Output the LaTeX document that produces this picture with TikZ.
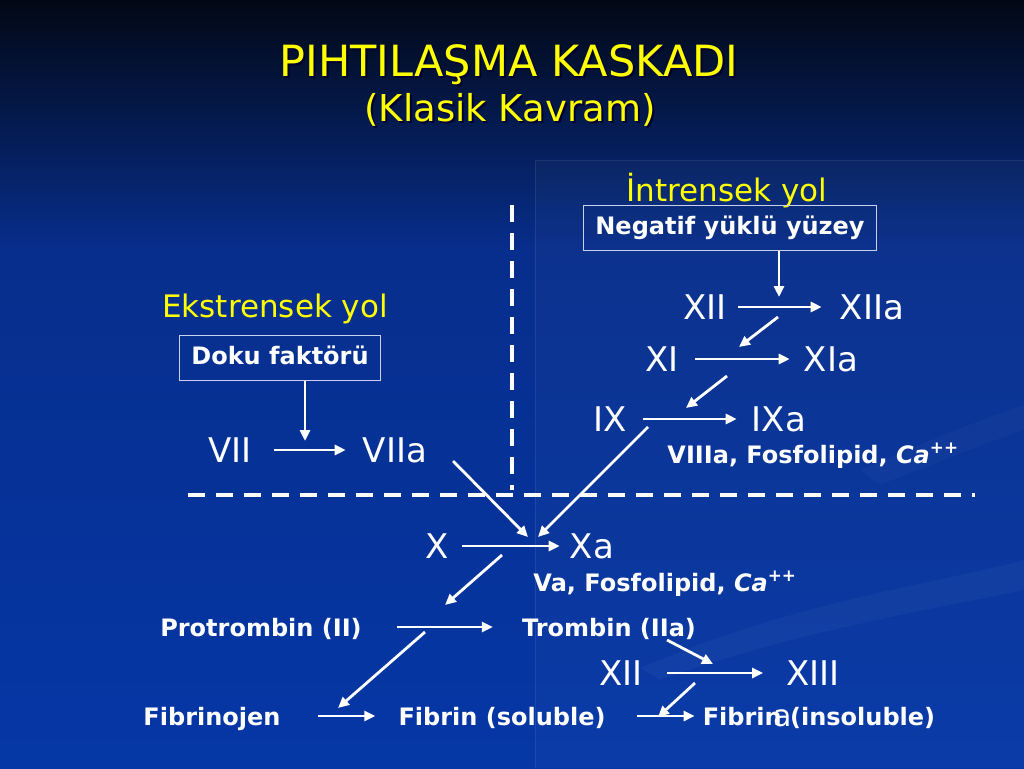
\documentclass[tikz,border=0pt]{standalone}
\usepackage{fontspec}
\setmainfont{DejaVu Sans}
\usepackage{tikz}
\usetikzlibrary{positioning, arrows.meta}

\definecolor{bgtop}{HTML}{020815}
\definecolor{bgmid}{HTML}{072E8C}
\definecolor{bgblue}{HTML}{0537A6}
\definecolor{kyellow}{HTML}{FFFF00}
\definecolor{boxline}{HTML}{C8D2F0}

\begin{document}
\begin{tikzpicture}[x=1pt, y=-1pt,
        % Title style (yellow, with dark shadow)
        title/.style={text=kyellow, font=\fontsize{43}{46}\selectfont, inner sep=0pt},
        titleshade/.style={title, text=black!80!blue},
        % Pathway heading style
        pathway/.style={text=kyellow, font=\fontsize{31}{34}\selectfont,
            inner sep=0pt, text height=22pt, text depth=0pt},
        % Trigger box style
        trigger/.style={draw=boxline, line width=0.9pt, text=white,
            font=\fontsize{24}{26}\selectfont\bfseries,
            inner xsep=12pt, minimum height=45pt, text height=18pt, text depth=6pt},
        % Clotting factor style (large, plain)
        factor/.style={text=white, font=\fontsize{34}{36}\selectfont,
            inner sep=0pt, text height=24pt, text depth=0pt},
        % Bold protein label style
        protein/.style={text=white, font=\fontsize{24}{26}\selectfont\bfseries,
            inner sep=0pt, text height=18pt, text depth=0pt},
        % Cofactor note style
        cofactor/.style={protein},
        % Arrow style
        arr/.style={draw=white, line width=2.8pt, -{Triangle[length=11pt, width=10pt]}},
        % Dashed divider style
        divider/.style={draw=white, line width=4pt, dash pattern=on 17pt off 11pt}
    ]

        % Background
        \useasboundingbox (0,0) rectangle (1024,768);
        \shade[top color=bgtop, bottom color=bgmid] (0,0) rectangle (1024,250);
        \shade[top color=bgmid, bottom color=bgblue] (0,250) rectangle (1024,768);
        \fill[white, opacity=0.025] (535,160) rectangle (1024,768);
        \draw[white, opacity=0.08, line width=1pt] (535,768) -- (535,160) -- (1024,160);
        \fill[white, opacity=0.03] (640,668) .. controls (800,600) and (930,585) .. (1024,560)
            -- (1024,590) .. controls (930,610) and (800,630) .. (660,680) -- cycle;
        \fill[white, opacity=0.025] (860,470) .. controls (930,440) and (980,420) .. (1024,405)
            -- (1024,430) .. controls (980,445) and (930,465) .. (880,485) -- cycle;

        % Title
        \node[titleshade] at (511,67) {PIHTILAŞMA KASKADI};
        \node[title] (title) at (509,65) {PIHTILAŞMA KASKADI};
        \node[titleshade, font=\fontsize{37}{40}\selectfont] at (512,112) {(Klasik Kavram)};
        \node[title, font=\fontsize{37}{40}\selectfont] (subtitle) at (510,110) {(Klasik Kavram)};

        % Pathway headings and triggers
        \node[pathway] (intr) at (727,190) {İntrensek yol};
        \node[trigger] (negatif) at (730,228) {Negatif yüklü yüzey};
        \node[pathway] (ekstr) at (275,306) {Ekstrensek yol};
        \node[trigger] (doku) at (280,358) {Doku faktörü};

        % Dividers
        \draw[divider] (512,205) -- (512,490);
        \draw[divider] (188,495) -- (975,495);

        % Factors
        \node[factor] (XII) at (705,307) {XII};
        \node[factor] (XIIa) at (872,307) {XIIa};
        \node[factor] (XI) at (662,359) {XI};
        \node[factor] (XIa) at (831,359) {XIa};
        \node[factor] (IX) at (610,419) {IX};
        \node[factor] (IXa) at (779,419) {IXa};
        \node[cofactor] (cofIX) at (813,454) {VIIIa, Fosfolipid, \textit{Ca}\textsuperscript{++}};
        \node[factor] (VII) at (230,450) {VII};
        \node[factor] (VIIa) at (395,450) {VIIa};
        \node[factor] (X) at (437,546) {X};
        \node[factor] (Xa) at (592,546) {Xa};
        \node[cofactor] (cofX) at (665,582) {Va, Fosfolipid, \textit{Ca}\textsuperscript{++}};
        \node[protein] (protr) at (261,627) {Protrombin (II)};
        \node[protein] (tromb) at (609,627) {Trombin (IIa)};
        \node[factor] (XIIb) at (621,673) {XII};
        \node[factor] (XIII) at (813,673) {XIII};
        \node[protein] (fibrinojen) at (212,716) {Fibrinojen};
        \node[protein] (fibsol) at (502,716) {Fibrin (soluble)};
        \node[protein] (fibins) at (819,716) {Fibrin (insoluble)};
        \node[factor, font=\fontsize{30}{32}\selectfont, anchor=base] (stray) at (783,726) {a};

        % Free ends of the side arrows
        \coordinate (viiact) at (305,441);
        \coordinate (xiiact) at (779,297);
        \coordinate (fbXIIs) at (778,317);  \coordinate (fbXIIe) at (739,347);
        \coordinate (fbXIs) at (727,376);   \coordinate (fbXIe) at (686,408);
        \coordinate (fbVIIs) at (453,461);  \coordinate (xact1) at (528,537);
        \coordinate (fbIXs) at (648,427);   \coordinate (xact2) at (538,537);
        \coordinate (fbXs) at (502,555);    \coordinate (fbXe) at (445,605);
        \coordinate (fbIIs) at (425,632);   \coordinate (fbIIe) at (338,708);
        \coordinate (fbTs) at (667,640);    \coordinate (fbTe) at (713,664);
        \coordinate (fbXIIIs) at (695,683); \coordinate (fbXIIIe) at (658,717);

        % Connections
        \draw[arr] ([xshift=25pt]doku.south) -- (viiact);
        \draw[arr] ([xshift=49pt]negatif.south) -- (xiiact);
        \draw[arr, shorten <=22pt, shorten >=17pt] (VII) -- (VIIa);
        \draw[arr, shorten <=11pt, shorten >=18pt] (XII) -- (XIIa);
        \draw[arr, shorten <=16pt, shorten >=14pt] (XI) -- (XIa);
        \draw[arr, shorten <=16pt, shorten >=15pt] (IX) -- (IXa);
        \draw[arr, shorten <=13pt, shorten >=10pt] (X) -- (Xa);
        \draw[arr, shorten <=35pt, shorten >=29pt] (protr) -- (tromb);
        \draw[arr, shorten <=24pt, shorten >=23pt] (XIIb) -- (XIII);
        \draw[arr, shorten <=37pt, shorten >=23pt] (fibrinojen) -- (fibsol);
        \draw[arr, shorten <=31pt, shorten >=8pt] (fibsol) -- (fibins);

        % Side arrows (activation of the next step)
        \draw[arr] (fbXIIs) -- (fbXIIe);
        \draw[arr] (fbXIs) -- (fbXIe);
        \draw[arr] (fbVIIs) -- (xact1);
        \draw[arr] (fbIXs) -- (xact2);
        \draw[arr] (fbXs) -- (fbXe);
        \draw[arr] (fbIIs) -- (fbIIe);
        \draw[arr] (fbTs) -- (fbTe);
        \draw[arr] (fbXIIIs) -- (fbXIIIe);

    \end{tikzpicture}
\end{document}
